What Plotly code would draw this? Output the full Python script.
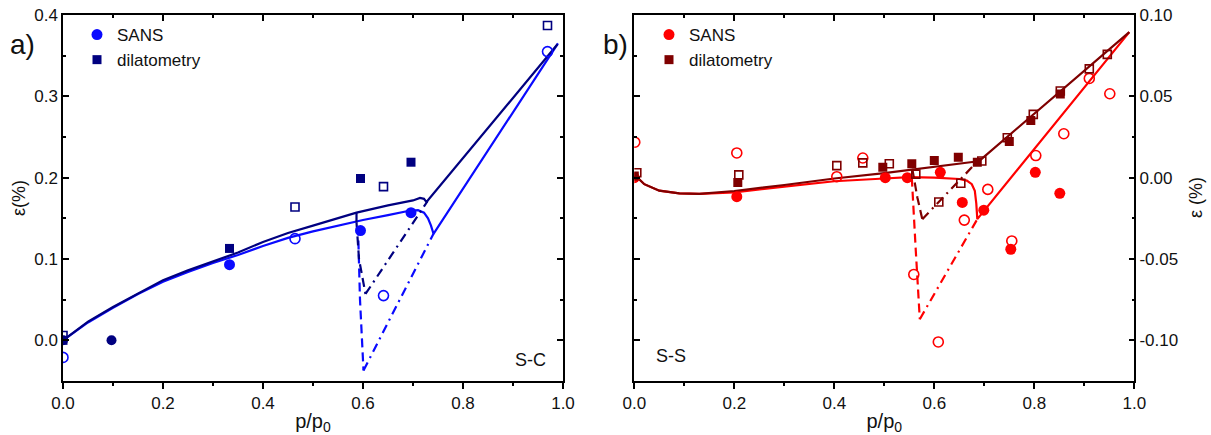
import plotly.graph_objects as go

# ---------------- panel a) S-C ----------------
a_sans_fill_x = [0.333, 0.595, 0.696]
a_sans_fill_y = [0.093, 0.135, 0.157]
a_sans_open_x = [0.0, 0.464, 0.641, 0.969]
a_sans_open_y = [-0.021, 0.125, 0.055, 0.355]
a_sans_dark_x = [0.0, 0.097]
a_sans_dark_y = [0.0, 0.0]
a_dil_fill_x = [0.0, 0.333, 0.595, 0.696]
a_dil_fill_y = [0.0, 0.113, 0.199, 0.219]
a_dil_open_x = [0.0, 0.464, 0.641, 0.969]
a_dil_open_y = [0.006, 0.164, 0.189, 0.387]

a_dil_line_x = [0, 0.05, 0.1, 0.15, 0.2, 0.25, 0.3, 0.35, 0.4, 0.45, 0.5, 0.55, 0.587, 0.65, 0.70, 0.714, 0.722, 0.727, 0.989]
a_dil_line_y = [0, 0.023, 0.041, 0.058, 0.074, 0.086, 0.097, 0.108, 0.121, 0.132, 0.141, 0.150, 0.157, 0.166, 0.172, 0.175, 0.174, 0.170, 0.364]
a_sans_line_x = [0, 0.05, 0.1, 0.15, 0.2, 0.25, 0.3, 0.35, 0.4, 0.45, 0.5, 0.55, 0.6, 0.65, 0.69, 0.71, 0.722, 0.73, 0.736, 0.741, 0.99]
a_sans_line_y = [0, 0.022, 0.040, 0.057, 0.072, 0.084, 0.095, 0.105, 0.116, 0.126, 0.134, 0.141, 0.148, 0.154, 0.159, 0.160, 0.157, 0.150, 0.141, 0.131, 0.365]
a_dil_step_x = [0.587, 0.587]
a_dil_step_y = [0.157, 0.145]
a_dil_dash_x = [0.587, 0.592, 0.605]
a_dil_dash_y = [0.145, 0.100, 0.057]
a_sans_dash_x = [0.590, 0.594, 0.601]
a_sans_dash_y = [0.140, 0.050, -0.037]
a_dil_dashdot_x = [0.605, 0.729]
a_dil_dashdot_y = [0.057, 0.171]
a_sans_dashdot_x = [0.601, 0.741]
a_sans_dashdot_y = [-0.037, 0.131]

# ---------------- panel b) S-S ----------------
b_sans_fill_x = [0.0, 0.205, 0.502, 0.546, 0.612, 0.656, 0.699, 0.753, 0.802, 0.851]
b_sans_fill_y = [0.0, -0.0117, 0.0, 0.0, 0.0033, -0.0152, -0.020, -0.044, 0.0033, -0.0096]
b_sans_open_x = [0.001, 0.205, 0.405, 0.457, 0.559, 0.608, 0.660, 0.707, 0.755, 0.803, 0.859, 0.910, 0.951]
b_sans_open_y = [0.0218, 0.0152, 0.0006, 0.0121, -0.0595, -0.101, -0.0261, -0.0072, -0.0389, 0.0136, 0.027, 0.061, 0.0516]
b_dil_fill_x = [0.0, 0.207, 0.497, 0.555, 0.600, 0.648, 0.686, 0.750, 0.793, 0.852]
b_dil_fill_y = [0.001, -0.003, 0.0064, 0.0085, 0.0105, 0.0125, 0.0095, 0.0222, 0.0352, 0.0514]
b_dil_open_x = [0.005, 0.209, 0.405, 0.457, 0.510, 0.563, 0.609, 0.653, 0.695, 0.746, 0.798, 0.852, 0.910, 0.946]
b_dil_open_y = [0.003, 0.0017, 0.0074, 0.0091, 0.0086, 0.0022, -0.015, -0.0034, 0.0102, 0.0245, 0.0389, 0.0533, 0.0669, 0.0758]

b_dil_line_x = [0.003, 0.02, 0.05, 0.09, 0.13, 0.2, 0.3, 0.4, 0.5, 0.6, 0.68, 0.69, 0.99]
b_dil_line_y = [0.001, -0.004, -0.008, -0.0097, -0.0100, -0.0082, -0.0045, -0.0005, 0.0028, 0.0065, 0.0098, 0.0103, 0.0895]
b_sans_line_x = [0.003, 0.02, 0.05, 0.09, 0.13, 0.2, 0.3, 0.4, 0.5, 0.55, 0.6, 0.65, 0.665, 0.675, 0.681, 0.684, 0.686, 0.99]
b_sans_line_y = [0.001, -0.004, -0.008, -0.0097, -0.0100, -0.0090, -0.0055, -0.0022, -0.0005, 0.0003, 0.0, -0.0008, -0.0018, -0.004, -0.008, -0.016, -0.0255, 0.0895]
b_sans_dash_x = [0.555, 0.558, 0.563, 0.571]
b_sans_dash_y = [0.0, -0.020, -0.045, -0.087]
b_sans_dashdot_x = [0.571, 0.686]
b_sans_dashdot_y = [-0.087, -0.0255]
b_dil_dash_x = [0.556, 0.566, 0.576]
b_dil_dash_y = [0.0055, -0.012, -0.0255]
b_dil_dashdot_x = [0.576, 0.688]
b_dil_dashdot_y = [-0.0255, 0.0105]

a_ytick_vals = [0.0, 0.1, 0.2, 0.3, 0.4]
a_ytick_text = ["0.0", "0.1", "0.2", "0.3", "0.4"]
b_ytick_vals = [-0.10, -0.05, 0.0, 0.05, 0.10]
b_ytick_text = ["-0.10", "-0.05", "0.00", "0.05", "0.10"]
xtick_vals = [0.0, 0.2, 0.4, 0.6, 0.8, 1.0]
xtick_text = ["0.0", "0.2", "0.4", "0.6", "0.8", "1.0"]

BLUE = "#0a0aff"
NAVY = "#000080"
RED = "#ff0000"
DRED = "#7f0000"
TXT = "#111111"
FONT = "Arial, Liberation Sans, sans-serif"
LW = 2.2
DASH = "9px,5px"
DASHDOT = "9px,5px,2px,5px"

fig = go.Figure()


def line(x, y, color, xa, ya, dash="solid"):
    fig.add_trace(go.Scatter(x=x, y=y, mode="lines", xaxis=xa, yaxis=ya,
                             line=dict(color=color, width=LW, dash=dash),
                             showlegend=False, hoverinfo="skip"))


def pts(x, y, color, symbol, size, xa, ya, name=None, legend=None, fill=True):
    fig.add_trace(go.Scatter(
        x=x, y=y, mode="markers", xaxis=xa, yaxis=ya, name=name,
        showlegend=name is not None, legend=legend,
        marker=dict(symbol=symbol if fill else symbol + "-open", size=size,
                    color=color, line=dict(color=color, width=1.6 if not fill else 0))))


# panel a lines
line(a_sans_line_x, a_sans_line_y, BLUE, "x", "y")
line(a_dil_line_x, a_dil_line_y, NAVY, "x", "y")
line(a_dil_step_x, a_dil_step_y, NAVY, "x", "y")
line(a_sans_dash_x, a_sans_dash_y, BLUE, "x", "y", DASH)
line(a_dil_dash_x, a_dil_dash_y, NAVY, "x", "y", DASH)
line(a_sans_dashdot_x, a_sans_dashdot_y, BLUE, "x", "y", DASHDOT)
line(a_dil_dashdot_x, a_dil_dashdot_y, NAVY, "x", "y", DASHDOT)
# panel a markers
pts(a_sans_open_x, a_sans_open_y, BLUE, "circle", 10, "x", "y", fill=False)
pts(a_dil_open_x, a_dil_open_y, NAVY, "square", 8, "x", "y", fill=False)
pts(a_dil_fill_x, a_dil_fill_y, NAVY, "square", 9, "x", "y", name="dilatometry", legend="legend")
pts(a_sans_dark_x, a_sans_dark_y, NAVY, "circle", 10, "x", "y")
pts(a_sans_fill_x, a_sans_fill_y, BLUE, "circle", 11, "x", "y", name="SANS", legend="legend")

# panel b lines
line(b_sans_line_x, b_sans_line_y, RED, "x2", "y2")
line(b_dil_line_x, b_dil_line_y, DRED, "x2", "y2")
line(b_sans_dash_x, b_sans_dash_y, RED, "x2", "y2", DASH)
line(b_dil_dash_x, b_dil_dash_y, DRED, "x2", "y2", DASH)
line(b_sans_dashdot_x, b_sans_dashdot_y, RED, "x2", "y2", DASHDOT)
line(b_dil_dashdot_x, b_dil_dashdot_y, DRED, "x2", "y2", DASHDOT)
# panel b markers
pts(b_sans_fill_x, b_sans_fill_y, RED, "circle", 11, "x2", "y2", name="SANS", legend="legend2")
pts(b_dil_fill_x, b_dil_fill_y, DRED, "square", 9, "x2", "y2", name="dilatometry", legend="legend2")
pts(b_sans_open_x, b_sans_open_y, RED, "circle", 10, "x2", "y2", fill=False)
pts(b_dil_open_x, b_dil_open_y, DRED, "square", 8, "x2", "y2", fill=False)

# helper traces so the top (inward-tick) axes are drawn
fig.add_trace(go.Scatter(x=[None], y=[None], xaxis="x3", yaxis="y", showlegend=False, hoverinfo="skip"))
fig.add_trace(go.Scatter(x=[None], y=[None], xaxis="x4", yaxis="y2", showlegend=False, hoverinfo="skip"))

tickfont = dict(family=FONT, size=17, color=TXT)
axline = dict(showline=True, linecolor="black", linewidth=1.5, showgrid=False, zeroline=False,
              automargin=False)
dom_a = [63 / 1211, 563 / 1211]
dom_b = [634.3 / 1211, 1134.3 / 1211]
dom_y = [54 / 435, 420 / 435]

xbottom = dict(range=[0, 1], tickvals=xtick_vals, ticktext=xtick_text, ticks="outside",
               ticklen=6, tickwidth=1.5, tickcolor="black", tickfont=tickfont,
               minor=dict(tickvals=[0.1, 0.3, 0.5, 0.7, 0.9], ticks="outside", ticklen=3,
                          tickwidth=1.5, tickcolor="black"),
               title=dict(text="p/p<sub>0</sub>", font=dict(family=FONT, size=20, color=TXT), standoff=2),
               **axline)
xtop = dict(range=[0, 1], side="top", tickvals=xtick_vals, showticklabels=False, ticks="inside",
            ticklen=6, tickwidth=1.5, tickcolor="black",
            minor=dict(tickvals=[0.1, 0.3, 0.5, 0.7, 0.9], ticks="inside", ticklen=3,
                       tickwidth=1.5, tickcolor="black"),
            **axline)

fig.update_layout(
    width=1211, height=435, margin=dict(l=0, r=0, t=0, b=0, autoexpand=False),
    paper_bgcolor="white", plot_bgcolor="white",
    font=dict(family=FONT, color=TXT),
    xaxis=dict(domain=dom_a, anchor="y", **xbottom),
    xaxis3=dict(domain=dom_a, anchor="y", overlaying="x", **xtop),
    xaxis2=dict(domain=dom_b, anchor="y2", **xbottom),
    xaxis4=dict(domain=dom_b, anchor="y2", overlaying="x2", **xtop),
    yaxis=dict(domain=dom_y, anchor="x", range=[-0.05, 0.4], tickvals=a_ytick_vals, ticktext=a_ytick_text,
               ticks="inside", ticklen=6, tickwidth=1.5, tickcolor="black", mirror="ticks",
               tickfont=tickfont,
               minor=dict(tickvals=[-0.05, 0.05, 0.15, 0.25, 0.35], ticks="inside", ticklen=3,
                          tickwidth=1.5, tickcolor="black"),
               **axline),
    yaxis2=dict(domain=dom_y, anchor="x2", side="right", range=[-0.125, 0.1], tickvals=b_ytick_vals,
                ticktext=b_ytick_text, ticks="inside", ticklen=6, tickwidth=1.5, tickcolor="black",
                mirror="ticks", tickfont=tickfont,
                minor=dict(tickvals=[-0.125, -0.075, -0.025, 0.025, 0.075], ticks="inside", ticklen=3,
                           tickwidth=1.5, tickcolor="black"),
                **axline),
    legend=dict(x=77 / 1211, y=(435 - 17) / 435, xanchor="left", yanchor="top",
                bgcolor="rgba(0,0,0,0)", font=dict(family=FONT, size=17, color=TXT),
                traceorder="reversed", itemsizing="trace", tracegroupgap=0),
    legend2=dict(x=649 / 1211, y=(435 - 17) / 435, xanchor="left", yanchor="top",
                 bgcolor="rgba(0,0,0,0)", font=dict(family=FONT, size=17, color=TXT),
                 traceorder="normal", itemsizing="trace", tracegroupgap=0),
    annotations=[
        dict(text="a)", x=8 / 1211, y=(435 - 44) / 435, xref="paper", yref="paper",
             xanchor="left", yanchor="middle", showarrow=False, font=dict(family=FONT, size=28, color=TXT)),
        dict(text="b)", x=601 / 1211, y=(435 - 44) / 435, xref="paper", yref="paper",
             xanchor="left", yanchor="middle", showarrow=False, font=dict(family=FONT, size=28, color=TXT)),
        dict(text="S-C", x=530 / 1211, y=(435 - 360) / 435, xref="paper", yref="paper",
             xanchor="center", yanchor="middle", showarrow=False, font=dict(family=FONT, size=18, color=TXT)),
        dict(text="S-S", x=671 / 1211, y=(435 - 356) / 435, xref="paper", yref="paper",
             xanchor="center", yanchor="middle", showarrow=False, font=dict(family=FONT, size=18, color=TXT)),
        dict(text="ε(%)", x=19 / 1211, y=(435 - 198) / 435, xref="paper", yref="paper", textangle=-90,
             xanchor="center", yanchor="middle", showarrow=False, font=dict(family=FONT, size=18, color=TXT)),
        dict(text="ε (%)", x=1196 / 1211, y=(435 - 198) / 435, xref="paper", yref="paper", textangle=-90,
             xanchor="center", yanchor="middle", showarrow=False, font=dict(family=FONT, size=18, color=TXT)),
    ],
)

fig.write_html("out.html")
